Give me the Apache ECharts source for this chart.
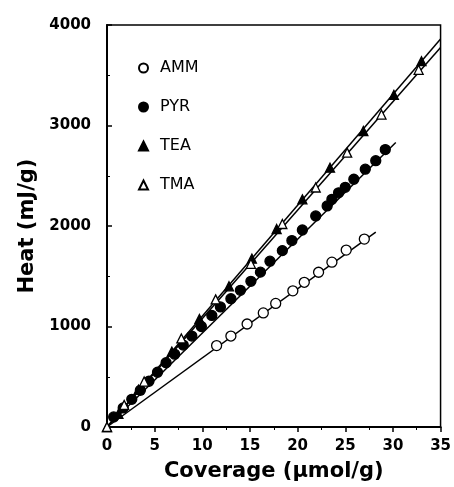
<!DOCTYPE html>
<html>
<head>
<meta charset="utf-8">
<script src="https://cdn.jsdelivr.net/npm/echarts@6/dist/echarts.min.js"></script>
<style>
  html, body { margin: 0; padding: 0; background: #fff; }
  #chart { width: 454px; height: 487px; }
</style>
</head>
<body>
<div id="chart"></div>
<script>
// measured points, [coverage umol/g, heat mJ/g]
const amm = [[11.5, 810], [13.0, 905], [14.7, 1025], [16.4, 1135], [17.7, 1230], [19.5, 1355],
  [20.7, 1440], [22.2, 1540], [23.6, 1640], [25.1, 1760], [27.0, 1870]];
const pyr = [[0.7, 100], [1.7, 190], [2.6, 275], [3.5, 365], [4.4, 455], [5.3, 545], [6.2, 640],
  [7.1, 725], [8.0, 815], [8.9, 905], [9.9, 1000], [11.0, 1110], [11.9, 1195], [13.0, 1277],
  [14.0, 1360], [15.1, 1450], [16.1, 1541], [17.1, 1650], [18.4, 1755], [19.4, 1855],
  [20.5, 1960], [21.9, 2100], [23.1, 2200], [23.6, 2265], [24.3, 2330], [25.0, 2385],
  [25.9, 2465], [27.1, 2565], [28.2, 2650], [29.2, 2760]];
const tea = [[0, 0], [1.2, 130], [3.3, 370], [6.8, 750], [9.7, 1075], [12.8, 1400], [15.2, 1675],
  [17.8, 1970], [20.5, 2265], [23.4, 2580], [26.9, 2945], [30.1, 3305], [33.0, 3640]];
const tma = [[0, 0], [1.8, 220], [3.9, 452], [7.8, 881], [11.4, 1270], [15.1, 1624], [18.4, 2020],
  [21.9, 2383], [25.2, 2730], [28.8, 3109], [32.7, 3554]];

// straight-line fits through the origin
const ammFit = [[0, 0], [28.2, 1940]];
const pyrFit = [[0, 0], [30.3, 2830]];
const teaFit = [[0, 0], [35, 3860]];
const tmaFit = [[0, 0], [35, 3775]];

const xTicks = [0, 35, 5];
const yTicks = [0, 4000, 1000];

const chart = echarts.init(document.getElementById('chart'));

const fitLine = (data) => ({
  type: 'line', data: data, symbol: 'none', silent: true, z: 1,
  lineStyle: { color: '#000', width: 1.5 }
});

const scatter = (name, data, symbol, fill, size) => ({
  name: name, type: 'scatter', data: data, symbol: symbol, symbolSize: size, z: 3,
  itemStyle: { color: fill, borderColor: '#000', borderWidth: 1.3, opacity: 1 }
});

chart.setOption({
  animation: false,
  textStyle: { fontFamily: 'DejaVu Sans' },
  grid: {
    left: 107, right: 12, top: 25, bottom: 58,
    show: true, borderColor: '#000', borderWidth: 1.5
  },
  legend: {
    orient: 'vertical', left: 133, top: 54,
    itemWidth: 9, itemHeight: 9, itemGap: 21,
    data: ['AMM', 'PYR', 'TEA', 'TMA'],
    textStyle: { fontSize: 16, color: '#000', lineHeight: 18, padding: [0, 0, 0, 7] }
  },
  xAxis: {
    type: 'value', min: xTicks[0], max: xTicks[1], interval: xTicks[2],
    name: 'Coverage (\u03bcmol/g)', nameLocation: 'middle', nameGap: 34,
    nameTextStyle: { fontSize: 21, fontWeight: 'bold', color: '#000' },
    axisLine: { lineStyle: { color: '#000', width: 2 } },
    axisTick: { inside: false, length: 5, lineStyle: { color: '#000', width: 1.5 } },
    minorTick: { show: true, splitNumber: 2, length: 3, lineStyle: { color: '#000' } },
    axisLabel: { fontSize: 15, fontWeight: 'bold', color: '#000', margin: 12 },
    splitLine: { show: false }
  },
  yAxis: {
    type: 'value', min: yTicks[0], max: yTicks[1], interval: yTicks[2],
    name: 'Heat (mJ/g)', nameLocation: 'middle', nameGap: 68, nameRotate: 90,
    nameTextStyle: { fontSize: 21, fontWeight: 'bold', color: '#000' },
    axisLine: { lineStyle: { color: '#000', width: 2 } },
    axisTick: { inside: true, length: 5, lineStyle: { color: '#000', width: 1.5 } },
    minorTick: { show: true, splitNumber: 2, length: 3, lineStyle: { color: '#000' } },
    axisLabel: { fontSize: 15, fontWeight: 'bold', color: '#000', margin: 16, formatter: (v) => String(v) },
    splitLine: { show: false }
  },
  series: [
    fitLine(ammFit), fitLine(pyrFit), fitLine(teaFit), fitLine(tmaFit),
    scatter('AMM', amm, 'circle', '#fff', 10),
    scatter('PYR', pyr, 'circle', '#000', 10),
    scatter('TEA', tea, 'triangle', '#000', 9),
    scatter('TMA', tma, 'triangle', '#fff', 9)
  ]
});
</script>
</body>
</html>
